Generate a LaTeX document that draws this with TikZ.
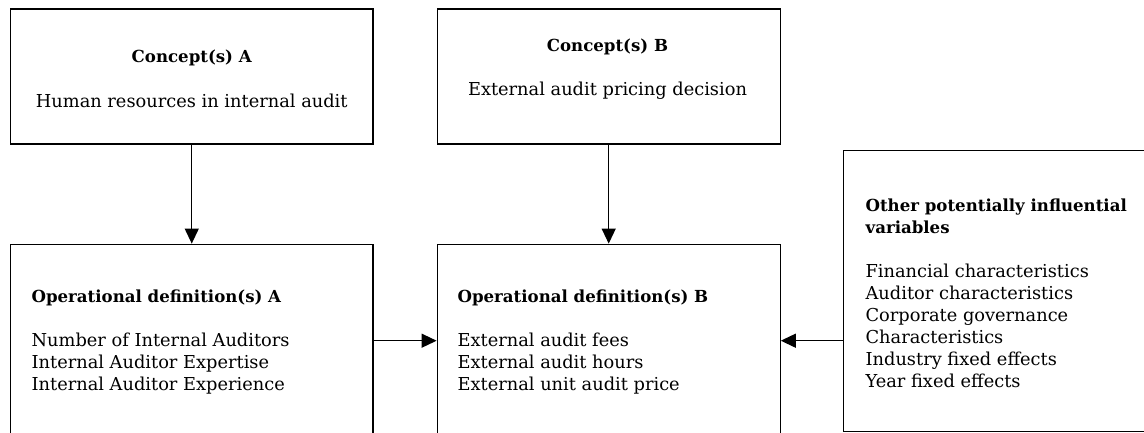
\documentclass[tikz,border=0pt]{standalone}
\usepackage{fontspec}
\setmainfont{DejaVu Serif}
\usetikzlibrary{positioning,arrows.meta}
\newcommand{\ttl}[1]{{\fontsize{8.3}{11}\selectfont\bfseries #1}}

\begin{document}
\begin{tikzpicture}[
	x=0.5pt, y=-0.5pt,
	>={Triangle[length=7.5pt,width=7pt]},
	semithick,
	node distance=49.5pt,
	box/.style={draw, rectangle, minimum height=67.5pt},
	txt/.style={inner sep=0pt, font=\fontsize{8.9}{11}\selectfont}
	]
	\useasboundingbox (0,0) rectangle (1144,433);
	\clip (0,0) rectangle (1144,433);

	\node[box, minimum width=181.25pt] (conA) at (191.75,76.5) {};
	\node[box, minimum width=171.5pt, right=31.5pt of conA] (conB) {};
	\node[box, minimum width=181.25pt, minimum height=96.5pt] (opA) [below=of conA] {};
	\node[box, minimum width=171.5pt, minimum height=96.5pt] (opB) [below=of conB] {};
	\node[box, minimum width=163.25pt, minimum height=140.5pt] (other) at (1006.75,291) {};

	% texts (base = last line)
	\node[txt, align=center, anchor=base] (conAtxt) at (191.75,107)
		{\ttl{Concept(s) A}\\[11pt]Human resources in internal audit};
	\node[txt, align=center, anchor=base] (conBtxt) at (607.5,96)
		{\ttl{Concept(s) B}\\[11pt]External audit pricing decision};
	\node[txt, align=left, anchor=base west] (opAtxt) at (31,390)
		{\ttl{Operational definition(s) A}\\[11pt]Number of Internal Auditors\\Internal Auditor Expertise\\Internal Auditor Experience};
	\node[txt, align=left, anchor=base west] (opBtxt) at (457,390)
		{\ttl{Operational definition(s) B}\\[11pt]External audit fees\\External audit hours\\External unit audit price};
	\node[txt, align=left, anchor=base west] (othertxt) at (865,387)
		{\ttl{Other potentially influential}\\\ttl{variables}\\[11pt]Financial characteristics\\Auditor characteristics\\Corporate governance\\Characteristics\\Industry fixed effects\\Year fixed effects};

	\path[->]
		(conA) edge (opA)
		(conB) edge (opB)
		(opA) edge (opB)
		(other.west |- opB) edge (opB);
\end{tikzpicture}
\end{document}
